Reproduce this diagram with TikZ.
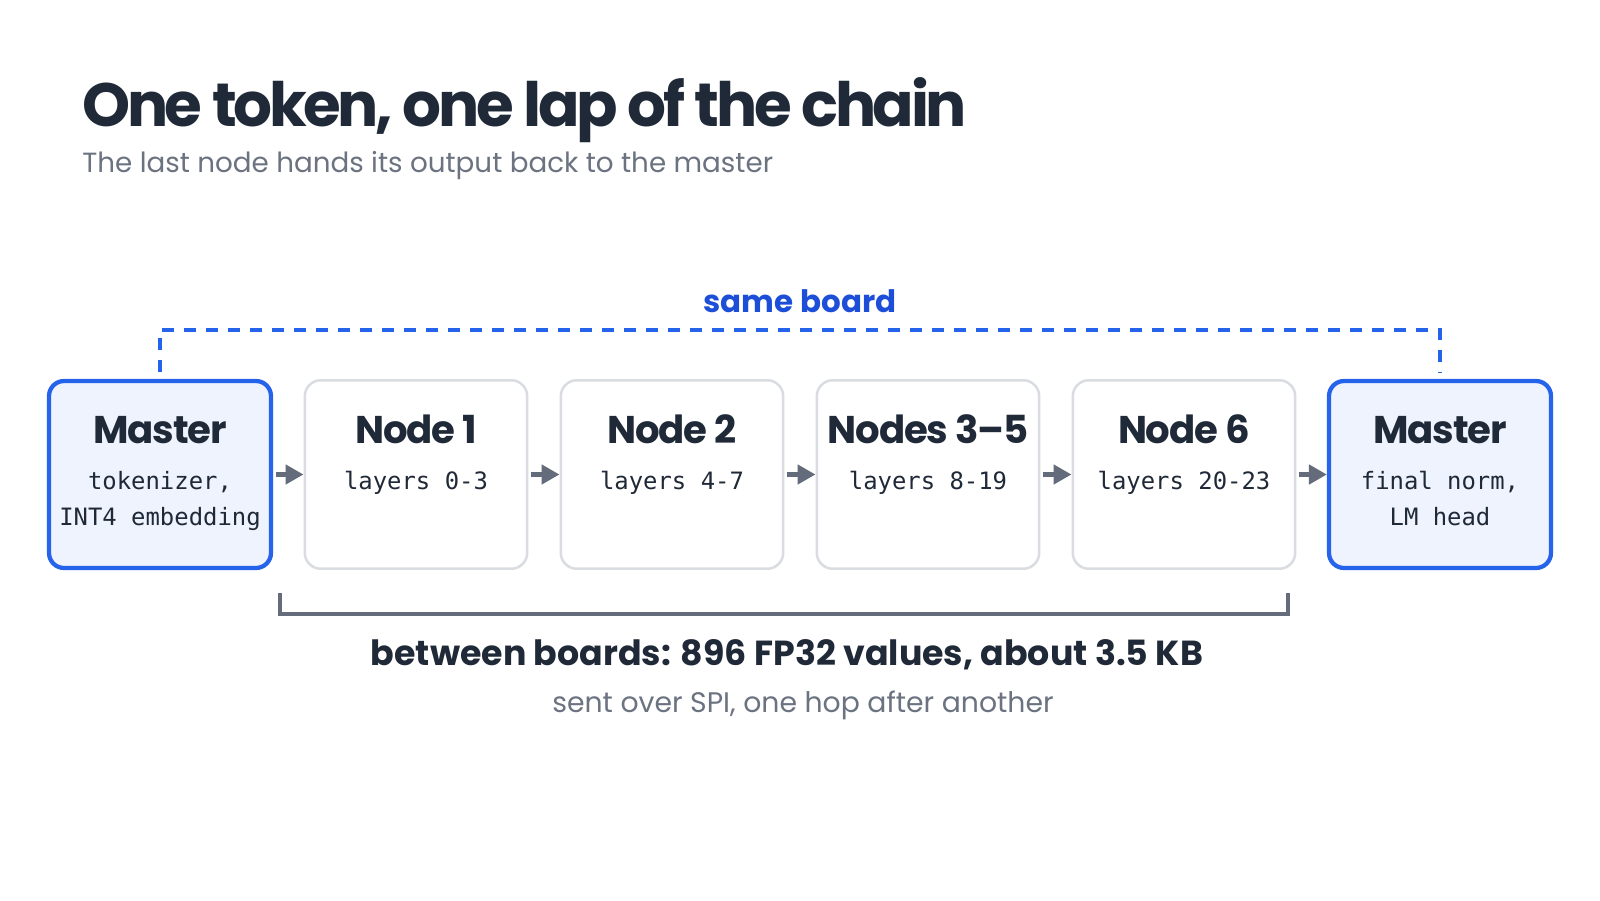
\documentclass[tikz,border=0pt]{standalone}
\usepackage{fontspec}
\setmainfont{Poppins}
\setmonofont{DejaVu Sans Mono}
\usetikzlibrary{arrows.meta}

\definecolor{ink}{HTML}{1F2937}
\definecolor{mute}{HTML}{6B7280}
\definecolor{boardblue}{HTML}{2563EB}
\definecolor{labelblue}{HTML}{1D4ED8}
\definecolor{masterfill}{HTML}{EEF3FD}
\definecolor{nodeedge}{HTML}{D9DCE1}
\definecolor{arrowgray}{HTML}{646B7A}

\begin{document}
\begin{tikzpicture}[x=0.02cm, y=-0.02cm,
  master/.style={draw=boardblue, line width=0.085cm, fill=masterfill, rounded corners=0.3cm,
    minimum width=4.44cm, minimum height=3.74cm},
  hop/.style={draw=nodeedge, line width=0.05cm, fill=white, rounded corners=0.32cm,
    minimum width=4.45cm, minimum height=3.77cm},
  boxname/.style={anchor=base, inner sep=0pt, text=ink,
    font=\fontsize{22}{26}\selectfont\bfseries\addfontfeature{LetterSpace=-3}},
  layers/.style={anchor=base, inner sep=0pt, text=ink, align=center,
    font=\fontsize{13.6}{20.4}\selectfont\ttfamily},
  hand/.style={-{Triangle[length=0.36cm, width=0.38cm]}, arrowgray, line width=0.09cm, shorten <=0.06cm},
  board/.style={boardblue, line width=0.08cm, dash pattern=on 0.24cm off 0.2cm},
  brace/.style={arrowgray, line width=0.07cm}
]

  % page
  \fill[white] (0,0) rectangle (1600,900);

  % Heading
  \node (title) at (82,126) [anchor=base west, inner sep=0pt, text=ink,
    font=\fontsize{34.8}{38}\selectfont\bfseries\addfontfeature{LetterSpace=-5.5}] {One token, one lap of the chain};
  \node (subtitle) at (82,172) [anchor=base west, inner sep=0pt, text=mute,
    font=\fontsize{15.8}{19}\selectfont] {The last node hands its output back to the master};

  % Boards in the chain
  \node (m0) at (160,474.5) [master] {};
  \node (n1) at (416,474.5) [hop] {};
  \node (n2) at (672,474.5) [hop] {};
  \node (n3) at (928,474.5) [hop] {};
  \node (n6) at (1184,474.5) [hop] {};
  \node (m7) at (1440,474.5) [master] {};

  % names and layer ranges (two-line nodes sit on their last line)
  \node (m0-name) at (160,443) [boxname] {Master};
  \node (m0-job) at (160,525) [layers] {tokenizer,\\INT4 embedding};
  \node (n1-name) at (416,443) [boxname] {Node 1};
  \node (n1-job) at (416,489) [layers] {layers 0-3};
  \node (n2-name) at (672,443) [boxname] {Node 2};
  \node (n2-job) at (672,489) [layers] {layers 4-7};
  \node (n3-name) at (928,443) [boxname] {Nodes 3–5};
  \node (n3-job) at (928,489) [layers] {layers 8-19};
  \node (n6-name) at (1184,443) [boxname] {Node 6};
  \node (n6-job) at (1184,489) [layers] {layers 20-23};
  \node (m7-name) at (1440,443) [boxname] {Master};
  \node (m7-job) at (1440,525) [layers] {final norm,\\LM head};

  % Hops
  \draw[hand] (m0) -- (n1);
  \draw[hand] (n1) -- (n2);
  \draw[hand] (n2) -- (n3);
  \draw[hand] (n3) -- (n6);
  \draw[hand] (n6) -- (m7);

  % Same board loop
  \coordinate (sb-left) at (160,330);
  \coordinate (sb-right) at (1440,330);
  \draw[board] ([yshift=0.14cm]m0.north) -- (sb-left) -- (sb-right) -- ([yshift=0.14cm]m7.north);
  \node (sameboard) at (800,312) [anchor=base, inner sep=0pt, text=labelblue,
    font=\fontsize{17.6}{20}\selectfont\bfseries] {same board};

  % Between boards
  \coordinate (br-a) at (280,593);
  \coordinate (br-b) at (280,614);
  \coordinate (br-c) at (1288,614);
  \coordinate (br-d) at (1288,593);
  \draw[brace] (br-a) -- (br-b) -- (br-c) -- (br-d);
  \node (payload) at (787,665) [anchor=base, inner sep=0pt, text=ink,
    font=\fontsize{19.8}{22}\selectfont\bfseries] {between boards: 896 FP32 values, about 3.5 KB};
  \node (spi) at (803,712) [anchor=base, inner sep=0pt, text=mute,
    font=\fontsize{16.1}{18}\selectfont] {sent over SPI, one hop after another};

\end{tikzpicture}
\end{document}
